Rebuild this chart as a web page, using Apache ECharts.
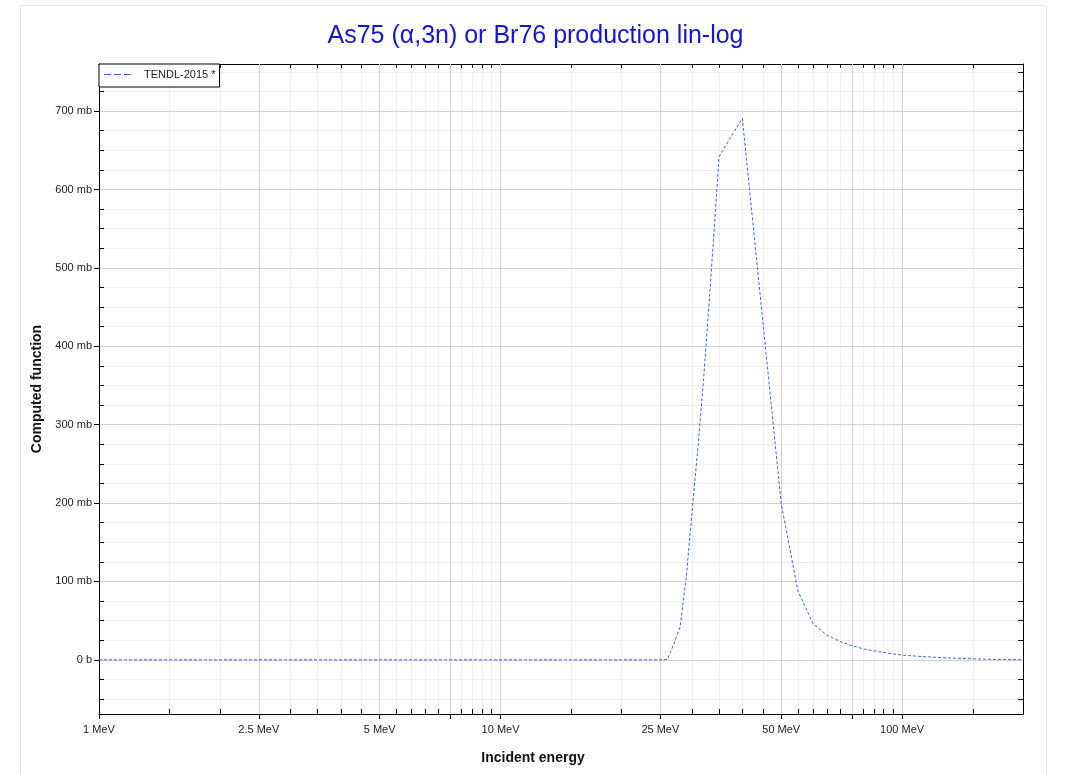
<!DOCTYPE html>
<html><head><meta charset="utf-8">
<script src="https://cdn.jsdelivr.net/npm/echarts@6/dist/echarts.min.js"></script>
<style>html,body{margin:0;padding:0;background:#fff}#c{width:1071px;height:774px}</style>
</head><body><div id="c"></div>
<script>
// ---- data ----
const energies = [1, 5, 10, 15, 20, 25, 26, 27, 28, 29, 30, 31, 32, 33, 34, 35, 40, 50, 55, 60, 65, 70, 75, 80, 85, 90, 95, 100, 110, 120, 130, 140, 150, 160, 180, 200];
const crossSection = [0, 0, 0, 0, 0, 0, 0.3, 20, 42, 105, 190, 270, 355, 450, 545, 642, 691, 199, 88, 46, 31.5, 23.5, 18, 14, 11.5, 9.5, 7.5, 6, 4.5, 3.3, 2.4, 1.8, 1.3, 0.9, 0.4, 0.1];
const seriesName = 'TENDL-2015 *';
const titleText = 'As75 (\u03b1,3n) or Br76 production lin-log';
const xName = 'Incident energy';
const yName = 'Computed function';

const xMin = 1, xMax = 200;
const yMin = -69.1, yMax = 760.1;
const xLabelTicks = [1, 2.5, 5, 10, 25, 50, 100];
const xMajorTicks = [1, 2.5, 5, 7.5, 10, 25, 50, 75, 100];
const xMinorTicks = [1.5, 2, 3, 3.5, 4, 4.5, 5.5, 6, 6.5, 7, 8, 8.5, 9, 9.5, 15, 20, 30, 35, 40, 45, 55, 60, 65, 70, 80, 85, 90, 95, 150];
const yMajorTicks = [0, 100, 200, 300, 400, 500, 600, 700];
const yAllTicks = [-50, -25, 0, 25, 50, 75, 100, 125, 150, 175, 200, 225, 250, 275, 300, 325, 350, 375, 400, 425, 450, 475, 500, 525, 550, 575, 600, 625, 650, 675, 700, 725, 750];

const FONT = '"Liberation Sans", Arial, Helvetica, sans-serif';
const xAllTicks = xMinorTicks.concat(xMajorTicks);
const LINE_COLOR = '#3d66e0';
// legend icon: three short dashes (a dashed-line sample)
const DASH_ICON = 'path://M0,0H7V1H0Z M10,0H17V1H10Z M20,0H27V1H20Z';

const chart = echarts.init(document.getElementById('c'), null, {renderer: 'canvas'});
const option = {
  backgroundColor: '#fff',
  animation: false,
  graphic: [{
    type: 'rect', silent: true, z: -10,
    shape: {x: 20.5, y: 5.5, width: 1026, height: 820},
    style: {fill: 'none', stroke: '#e6e6e6', lineWidth: 1}
  }],
  title: {
    text: titleText, left: 'center', top: 19,
    textStyle: {color: '#1414d2', fontSize: 25, fontWeight: 'normal', fontFamily: FONT}
  },
  legend: {
    show: true, left: 99, top: 64, orient: 'vertical',
    padding: [5, 4, 7, 5],
    borderColor: '#000', borderWidth: 1, borderRadius: 0, backgroundColor: '#fff',
    itemWidth: 27, itemHeight: 1.5,
    itemStyle: {color: LINE_COLOR, borderWidth: 0},
    textStyle: {fontSize: 11, color: '#222', fontFamily: FONT, padding: [0, 0, 0, 8]},
    data: [{name: seriesName, icon: DASH_ICON}], z: 10
  },
  grid: {left: 99, top: 64, right: 48, bottom: 60, containLabel: false},
  xAxis: [
    { // minor ticks + light grid
      type: 'log', logBase: 10, min: xMin, max: xMax, position: 'bottom', gridIndex: 0,
      axisLine: {show: false, onZero: false},
      axisLabel: {show: false},
      axisTick: {show: true, inside: true, length: 5, customValues: xAllTicks, lineStyle: {color: '#000'}},
      splitLine: {show: true, lineStyle: {color: '#efefef', width: 1}},
      minorTick: {show: false}, minorSplitLine: {show: false}
    },
    { // major ticks, labels, dark grid
      type: 'log', logBase: 10, min: xMin, max: xMax, position: 'bottom', gridIndex: 0, z: 1,
      axisLine: {show: true, onZero: false, lineStyle: {color: '#000', width: 1}},
      axisTick: {show: true, inside: false, length: 5, customValues: xMajorTicks, lineStyle: {color: '#000'}},
      axisLabel: {
        show: true, customValues: xLabelTicks, margin: 10, fontSize: 11, color: '#222', fontFamily: FONT,
        formatter: v => (+Number(v).toPrecision(6)) + ' MeV'
      },
      splitLine: {show: true, lineStyle: {color: '#d2d2d2', width: 1}},
      minorTick: {show: false}, minorSplitLine: {show: false},
      name: xName, nameLocation: 'middle', nameGap: 37,
      nameTextStyle: {fontSize: 14, fontWeight: 'bold', color: '#111', fontFamily: FONT, padding: [0, 56, 0, 0]}
    },
    { // top frame
      type: 'log', logBase: 10, min: xMin, max: xMax, position: 'top', gridIndex: 0,
      axisLine: {show: true, onZero: false, lineStyle: {color: '#000', width: 1}},
      axisTick: {show: true, inside: true, length: 4, customValues: xAllTicks, lineStyle: {color: '#000'}},
      axisLabel: {show: false},
      splitLine: {show: false}
    }
  ],
  yAxis: [
    { // minor ticks + light grid
      type: 'value', min: yMin, max: yMax, position: 'left', gridIndex: 0,
      axisLine: {show: false, onZero: false},
      axisLabel: {show: false},
      axisTick: {show: true, inside: true, length: 5, customValues: yAllTicks, lineStyle: {color: '#000'}},
      splitLine: {show: true, lineStyle: {color: '#efefef', width: 1}}
    },
    { // major
      type: 'value', min: yMin, max: yMax, position: 'left', gridIndex: 0, z: 1,
      axisLine: {show: true, onZero: false, lineStyle: {color: '#000', width: 1}},
      axisTick: {show: true, inside: false, length: 5, customValues: yMajorTicks, lineStyle: {color: '#000'}},
      axisLabel: {
        show: true, customValues: yMajorTicks, margin: 7, fontSize: 11, color: '#222', fontFamily: FONT,
        formatter: v => v === 0 ? '0 b' : v + ' mb'
      },
      splitLine: {show: true, lineStyle: {color: '#d2d2d2', width: 1}},
      name: yName, nameLocation: 'middle', nameGap: 54, nameRotate: 90,
      nameTextStyle: {fontSize: 14, fontWeight: 'bold', color: '#111', fontFamily: FONT}
    },
    { // right frame
      type: 'value', min: yMin, max: yMax, position: 'right', gridIndex: 0,
      axisLine: {show: true, onZero: false, lineStyle: {color: '#000', width: 1}},
      axisTick: {show: true, inside: true, length: 5, customValues: yAllTicks, lineStyle: {color: '#000'}},
      axisLabel: {show: false},
      splitLine: {show: false}
    }
  ],
  series: [{
    name: seriesName, type: 'line', xAxisIndex: 1, yAxisIndex: 1,
    data: energies.map((e, i) => [e, crossSection[i]]),
    symbol: 'none', showSymbol: false, smooth: false, z: 5,
    color: LINE_COLOR,
    lineStyle: {color: LINE_COLOR, width: 1, type: [3, 2]}
  }]
};
chart.setOption(option);
</script>
</body></html>
